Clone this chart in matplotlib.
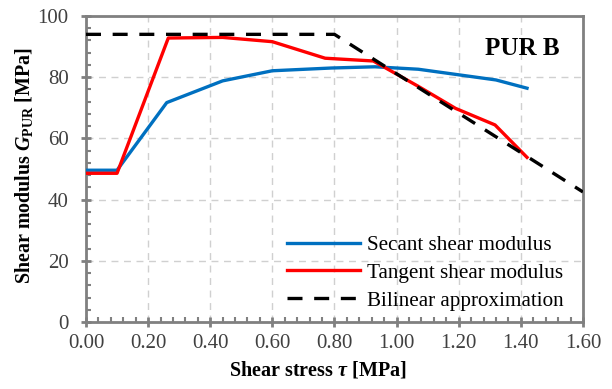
import matplotlib
matplotlib.use("Agg")
import matplotlib.pyplot as plt
from matplotlib.ticker import MultipleLocator, FormatStrFormatter

plt.rcParams['font.family'] = ['Liberation Serif', 'DejaVu Serif']
plt.rcParams['mathtext.fontset'] = 'custom'
plt.rcParams['mathtext.rm'] = 'Liberation Serif:bold'
plt.rcParams['mathtext.it'] = 'Liberation Serif:italic:bold'
plt.rcParams['mathtext.bf'] = 'Liberation Serif:bold'

# Data
secant_x = [0.00, 0.10, 0.26, 0.44, 0.60, 0.79, 0.93, 1.07, 1.32, 1.42]
secant_y = [49.6, 49.6, 71.7, 78.8, 82.1, 83.0, 83.4, 82.6, 79.1, 76.4]

tangent_x = [0.00, 0.10, 0.265, 0.44, 0.60, 0.77, 0.925, 1.07, 1.19, 1.317, 1.42]
tangent_y = [48.6, 48.6, 92.8, 93.0, 91.6, 86.2, 85.3, 77.0, 69.8, 64.4, 53.8]

bilinear_x = [0.00, 0.80, 1.60]
bilinear_y = [94.0, 94.0, 42.5]

x_ticks = [0.0, 0.2, 0.4, 0.6, 0.8, 1.0, 1.2, 1.4, 1.6]
y_ticks = [0, 20, 40, 60, 80, 100]

fig = plt.figure(figsize=(6.12, 3.89), dpi=100)
ax = fig.add_axes([0.1405, 0.1722, 0.812, 0.7867])

ax.plot(secant_x, secant_y, color='#0070C0', lw=2.4, label='Secant shear modulus', zorder=3)
ax.plot(tangent_x, tangent_y, color='#FF0000', lw=2.4, label='Tangent shear modulus', zorder=4)
ax.plot(bilinear_x, bilinear_y, color='black', lw=2.4, ls=(0, (4.5, 3.5)),
        label='Bilinear approximation', zorder=5)

ax.set_xlim(0, 1.6)
ax.set_ylim(0, 100)
ax.set_xticks(x_ticks)
ax.set_yticks(y_ticks)
ax.xaxis.set_major_formatter(FormatStrFormatter('%.2f'))
ax.xaxis.set_minor_locator(MultipleLocator(0.04))
ax.yaxis.set_minor_locator(MultipleLocator(4))

ax.grid(True, which='major', color='#d0d0d0', ls=(0, (5, 4)), lw=1.0, zorder=0)

for s in ax.spines.values():
    s.set_color('#808080')
    s.set_linewidth(2.0)

ax.tick_params(which='major', direction='inout', length=7, width=2, color='#808080',
               labelsize=15, labelcolor='#404040')
ax.tick_params(axis='y', which='major', pad=9)
ax.tick_params(axis='x', which='major', pad=5)
ax.tick_params(which='minor', direction='in', length=3.5, width=1.5, color='#808080')
ax.tick_params(axis='x', which='both', top=False)
ax.tick_params(axis='y', which='both', right=False)

ax.set_xlabel(r'Shear stress $\tau$ [MPa]', fontsize=14.5, fontweight='bold')
ax.set_ylabel(r'Shear modulus $G_{\mathrm{PUR}}$ [MPa]', fontsize=14.4, fontweight='bold')
ax.xaxis.set_label_coords(0.467, -0.121)
ax.yaxis.set_label_coords(-0.103, 0.51)

ax.text(0.954, 0.895, 'PUR B', transform=ax.transAxes, ha='right', va='center',
        fontsize=18, fontweight='bold')

leg = ax.legend(loc='lower right', bbox_to_anchor=(0.979, 0.01), frameon=False,
                fontsize=15.2, handlelength=3.5, handletextpad=0.33, labelspacing=0.38,
                borderaxespad=0.0)

fig.savefig('out.png', dpi=100)
